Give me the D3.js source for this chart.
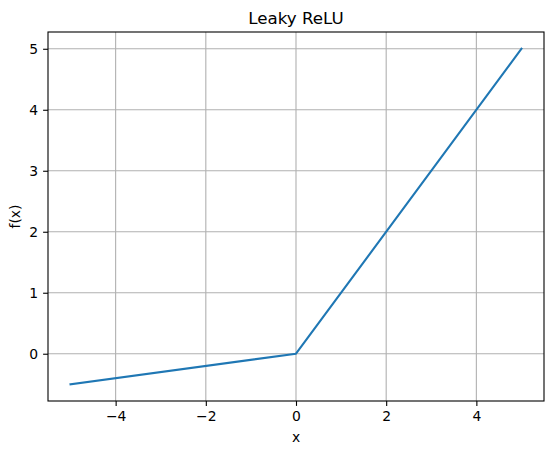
<!DOCTYPE html>
<html>
<head>
<meta charset="utf-8">
<script src="https://cdn.jsdelivr.net/npm/d3@7"></script>
<style>
  body { margin: 0; background: #fff; }
  text { font-family: "DejaVu Sans", sans-serif; }
</style>
</head>
<body>
<script>
// Leaky ReLU samples (alpha = 0.1)
const xValues = [-5, 0, 5];
const yValues = [-0.5, 0, 5];
const xTicks = [-4, -2, 0, 2, 4];
const yTicks = [0, 1, 2, 3, 4, 5];
const title = "Leaky ReLU";

const width = 554, height = 455;
const margin = {left: 48, right: 10, top: 32, bottom: 54};

const svg = d3.select("body").append("svg")
    .attr("width", width).attr("height", height);

// matplotlib style 5% padding
const xPad = (d3.max(xValues) - d3.min(xValues)) * 0.05;
const yPad = (d3.max(yValues) - d3.min(yValues)) * 0.05;
const x = d3.scaleLinear()
    .domain([d3.min(xValues) - xPad, d3.max(xValues) + xPad])
    .range([margin.left, width - margin.right]);
const y = d3.scaleLinear()
    .domain([d3.min(yValues) - yPad, d3.max(yValues) + yPad])
    .range([height - margin.bottom, margin.top]);

const fmt = d => d < 0 ? "\u2212" + Math.abs(d) : String(d);

// grid
svg.append("g").selectAll("line").data(xTicks).join("line")
    .attr("x1", d => x(d)).attr("x2", d => x(d))
    .attr("y1", margin.top).attr("y2", height - margin.bottom)
    .attr("stroke", "#b0b0b0").attr("stroke-width", 1.1);
svg.append("g").selectAll("line").data(yTicks).join("line")
    .attr("x1", margin.left).attr("x2", width - margin.right)
    .attr("y1", d => y(d)).attr("y2", d => y(d))
    .attr("stroke", "#b0b0b0").attr("stroke-width", 1.1);

// line
const pts = xValues.map((v, i) => [v, yValues[i]]);
svg.append("path").datum(pts)
    .attr("fill", "none").attr("stroke", "#1f77b4").attr("stroke-width", 2.1)
    .attr("stroke-linejoin", "round").attr("stroke-linecap", "square")
    .attr("d", d3.line().x(d => x(d[0])).y(d => y(d[1])));

// axes
const xAxis = svg.append("g")
    .attr("transform", `translate(0,${height - margin.bottom})`)
    .call(d3.axisBottom(x).tickValues(xTicks).tickFormat(fmt).tickSize(4.9).tickPadding(4.9));
const yAxis = svg.append("g")
    .attr("transform", `translate(${margin.left},0)`)
    .call(d3.axisLeft(y).tickValues(yTicks).tickFormat(fmt).tickSize(4.9).tickPadding(4.9));
[xAxis, yAxis].forEach(g => {
  g.select(".domain").remove();
  g.selectAll("line").attr("stroke", "#000").attr("stroke-width", 1.1);
  g.selectAll("text").attr("font-size", 13.9).attr("fill", "#000")
    .style("font-family", "DejaVu Sans, sans-serif");
});

// frame
svg.append("rect")
    .attr("x", margin.left).attr("y", margin.top)
    .attr("width", width - margin.left - margin.right)
    .attr("height", height - margin.top - margin.bottom)
    .attr("fill", "none").attr("stroke", "#000").attr("stroke-width", 1.1);

// labels
svg.append("text").attr("x", (margin.left + width - margin.right) / 2).attr("y", 24)
    .attr("text-anchor", "middle").attr("font-size", 16.7).text(title);
svg.append("text").attr("x", (margin.left + width - margin.right) / 2).attr("y", 441.5)
    .attr("text-anchor", "middle").attr("font-size", 13.9).text("x");
svg.append("text")
    .attr("transform", `translate(20,${(margin.top + height - margin.bottom) / 2}) rotate(-90)`)
    .attr("text-anchor", "middle").attr("font-size", 13.9).text("f(x)");
</script>
</body>
</html>
